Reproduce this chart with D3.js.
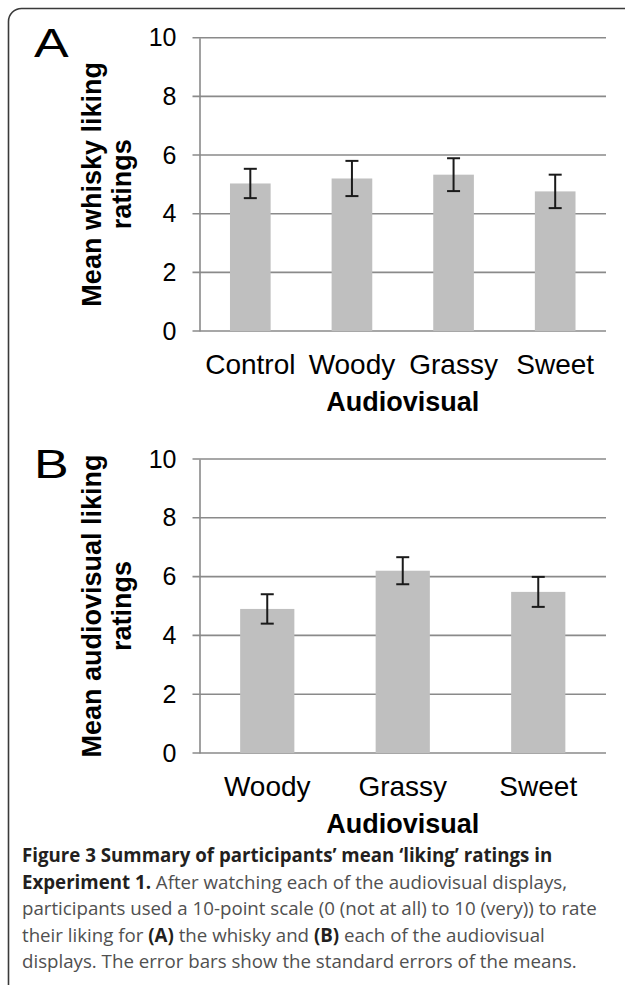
<!DOCTYPE html>
<html>
<head>
<meta charset="utf-8">
<script src="https://cdn.jsdelivr.net/npm/d3@7"></script>
<style>
  body { margin: 0; background: #fff; }
  svg { display: block; }
  .chart-text { font-family: "Liberation Sans", Arial, sans-serif; fill: #000; }
  .caption { font-family: "Open Sans", Lato, sans-serif; }
</style>
</head>
<body>
<div id="chart"></div>
<script>
// data
const yTicks = [0, 2, 4, 6, 8, 10]
const whiskyCategories = ['Control', 'Woody', 'Grassy', 'Sweet']
const whiskyMeans = [5.03, 5.2, 5.33, 4.76]
const whiskyErrors = [0.5, 0.6, 0.56, 0.57]
const avCategories = ['Woody', 'Grassy', 'Sweet']
const avMeans = [4.9, 6.2, 5.48]
const avErrors = [0.5, 0.46, 0.51]

const captionLines = [
  [['b', 'Figure 3 Summary of participants\u2019 mean \u2018liking\u2019 ratings in']],
  [['b', 'Experiment 1.'], ['r', ' After watching each of the audiovisual displays,']],
  [['r', 'participants used a 10-point scale (0 (not at all) to 10 (very)) to rate']],
  [['r', 'their liking for '], ['b', '(A)'], ['r', ' the whisky and '], ['b', '(B)'], ['r', ' each of the audiovisual']],
  [['r', 'displays. The error bars show the standard errors of the means.']]
]

const width = 625
const height = 985

const svg = d3.select('#chart').append('svg')
  .attr('width', width)
  .attr('height', height)

// frame (runs off the right and bottom edge like in the scan)
svg.append('rect')
  .attr('x', 8.5)
  .attr('y', 8.5)
  .attr('width', 640)
  .attr('height', 1000)
  .attr('rx', 13)
  .attr('fill', 'none')
  .attr('stroke', '#3a3a3a')
  .attr('stroke-width', 1.6)

function drawPanel (opts) {
  const { letter, top, bottom, categories, means, errors, titleLines } = opts
  const left = 199.5
  const right = 606

  const g = svg.append('g').attr('class', 'panel')

  const x = d3.scaleBand()
    .domain(categories)
    .range([left, right])
    .paddingInner(0.6)
    .paddingOuter(0.3)

  const y = d3.scaleLinear()
    .domain([0, 10])
    .range([bottom, top])

  // gridlines
  g.append('g')
    .selectAll('line')
    .data(yTicks)
    .join('line')
    .attr('x1', left - 7)
    .attr('x2', right)
    .attr('y1', d => y(d))
    .attr('y2', d => y(d))
    .attr('stroke', '#8a8a8a')
    .attr('stroke-width', 1.6)

  // y axis
  const yAxis = g.append('g')
    .attr('transform', `translate(${left},0)`)
    .call(d3.axisLeft(y).tickValues(yTicks).tickSize(0).tickPadding(23))
  yAxis.select('.domain')
    .attr('stroke', '#8a8a8a')
    .attr('stroke-width', 1.6)
  yAxis.selectAll('text')
    .attr('class', 'chart-text')
    .attr('font-size', 25)
    .attr('fill', '#000')

  // bars
  g.append('g')
    .selectAll('rect')
    .data(means)
    .join('rect')
    .attr('x', (d, i) => x(categories[i]))
    .attr('y', d => y(d))
    .attr('width', x.bandwidth())
    .attr('height', d => y(0) - y(d))
    .attr('fill', '#bfbfbf')

  // error bars
  const err = g.append('g')
    .selectAll('g')
    .data(means)
    .join('g')
    .attr('stroke', '#1a1a1a')
    .attr('stroke-width', 2)
  err.append('line')
    .attr('x1', (d, i) => x(categories[i]) + x.bandwidth() / 2)
    .attr('x2', (d, i) => x(categories[i]) + x.bandwidth() / 2)
    .attr('y1', (d, i) => y(d + errors[i]))
    .attr('y2', (d, i) => y(d - errors[i]))
  err.selectAll('line.cap')
    .data((d, i) => [d + errors[i], d - errors[i]].map(v => ({ v, i })))
    .join('line')
    .attr('class', 'cap')
    .attr('x1', d => x(categories[d.i]) + x.bandwidth() / 2 - 6.5)
    .attr('x2', d => x(categories[d.i]) + x.bandwidth() / 2 + 6.5)
    .attr('y1', d => y(d.v))
    .attr('y2', d => y(d.v))

  // category labels
  const xAxis = g.append('g')
    .attr('transform', `translate(0,${bottom})`)
    .call(d3.axisBottom(x).tickSize(0).tickPadding(23))
  xAxis.select('.domain').remove()
  xAxis.selectAll('text')
    .attr('class', 'chart-text')
    .attr('font-size', 28)
    .attr('fill', '#000')

  // x title
  g.append('text')
    .attr('class', 'chart-text')
    .attr('x', (left + right) / 2)
    .attr('y', bottom + 80)
    .attr('text-anchor', 'middle')
    .attr('font-size', 27)
    .attr('font-weight', 'bold')
    .text('Audiovisual')

  // y title, two lines
  const midY = (top + bottom) / 2
  g.append('text')
    .attr('class', 'chart-text')
    .attr('transform', `translate(101,${midY}) rotate(-90)`)
    .attr('text-anchor', 'middle')
    .attr('font-size', 27)
    .attr('font-weight', 'bold')
    .selectAll('tspan')
    .data(titleLines)
    .join('tspan')
    .attr('x', 0)
    .attr('y', (d, i) => i * 30)
    .text(d => d)

  // panel letter
  g.append('text')
    .attr('class', 'chart-text')
    .attr('transform', `translate(34,${top + 19}) scale(1.3,1)`)
    .attr('font-size', 40)
    .text(letter)
}

drawPanel({
  letter: 'A',
  top: 37.7,
  bottom: 331,
  categories: whiskyCategories,
  means: whiskyMeans,
  errors: whiskyErrors,
  titleLines: ['Mean whisky liking', 'ratings']
})

drawPanel({
  letter: 'B',
  top: 459,
  bottom: 753,
  categories: avCategories,
  means: avMeans,
  errors: avErrors,
  titleLines: ['Mean audiovisual liking', 'ratings']
})

// caption
const caption = svg.append('text')
  .attr('class', 'caption')
  .attr('font-size', 18.7)

caption.selectAll('tspan.line')
  .data(captionLines)
  .join('tspan')
  .attr('class', 'line')
  .attr('x', 22)
  .attr('y', (d, i) => 862 + i * 26.6)
  .selectAll('tspan')
  .data(d => d)
  .join('tspan')
  .attr('font-weight', d => d[0] === 'b' ? 'bold' : 'normal')
  .attr('fill', d => d[0] === 'b' ? '#231f20' : '#505050')
  .text(d => d[1])
</script>
</body>
</html>
